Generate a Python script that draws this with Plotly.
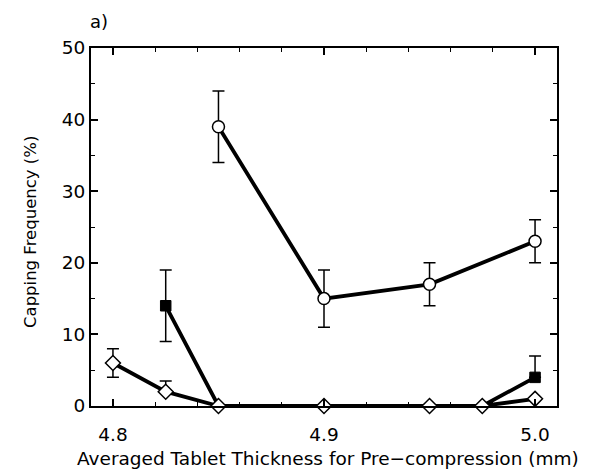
import plotly.graph_objects as go

# Data
circ_x = [4.85, 4.90, 4.95, 5.00]
circ_y = [39, 15, 17, 23]
circ_err = [5, 4, 3, 3]

sq_x = [4.825, 4.85, 4.90, 4.95, 4.975, 5.00]
sq_y = [14, 0, 0, 0, 0, 4]
sq_err_plus = [5, 0, 0, 0, 0, 3]
sq_err_minus = [5, 0, 0, 0, 0, 0]

dia_x = [4.80, 4.825, 4.85, 4.90, 4.95, 4.975, 5.00]
dia_y = [6, 2, 0, 0, 0, 0, 1]
dia_err_plus = [2, 1.5, 0, 0, 0, 0, 0]
dia_err_minus = [2, 0, 0, 0, 0, 0, 0]

x_title = "Averaged Tablet Thickness for Pre\u2212compression (mm)"
y_title = "Capping Frequency (%)"
panel_label = "a)"

FONT = "DejaVu Sans, Liberation Sans, Arial, sans-serif"

fig = go.Figure()

fig.add_trace(go.Scatter(
    x=circ_x, y=circ_y, mode="lines+markers",
    line=dict(color="black", width=3.8),
    marker=dict(symbol="circle", size=12, color="white", opacity=1,
                line=dict(color="black", width=1.5)),
    error_y=dict(type="data", array=circ_err, color="black", thickness=1.5, width=6),
    cliponaxis=False, showlegend=False,
))

fig.add_trace(go.Scatter(
    x=sq_x, y=sq_y, mode="lines+markers",
    line=dict(color="black", width=3.8),
    marker=dict(symbol="square", size=[10.5 if v > 0 else 0 for v in sq_y], color="#000000",
                opacity=1, line=dict(color="#000000", width=1)),
    error_y=dict(type="data", symmetric=False, array=sq_err_plus, arrayminus=sq_err_minus,
                 color="black", thickness=1.5, width=6),
    cliponaxis=False, showlegend=False,
))

fig.add_trace(go.Scatter(
    x=dia_x, y=dia_y, mode="lines+markers",
    line=dict(color="black", width=3.8),
    marker=dict(symbol="diamond", size=11.5, color="white", opacity=1,
                line=dict(color="black", width=1.5)),
    error_y=dict(type="data", symmetric=False, array=dia_err_plus, arrayminus=dia_err_minus,
                 color="black", thickness=1.5, width=6),
    cliponaxis=False, showlegend=False,
))

L, R, T, B = 91, 39, 48, 66
W, H = 596, 472
pw, ph = W - L - R, H - T - B

def px(p):
    return (p - L) / pw

def py(p):
    return (H - B - p) / ph

fig.update_layout(
    width=W, height=H,
    margin=dict(l=L, r=R, t=T, b=B, pad=0),
    paper_bgcolor="white", plot_bgcolor="white",
    font=dict(family=FONT, size=18, color="black"),
    xaxis=dict(
        range=[4.7896, 5.0104], tickvals=[4.8, 4.9, 5.0], ticktext=["4.8", "4.9", "5.0"],
        ticks="inside", ticklen=7, tickwidth=1.5, tickcolor="black",
        minor=dict(dtick=0.02, tick0=4.8, ticks="inside", ticklen=4, tickwidth=1.2, tickcolor="black"),
        showline=True, linecolor="black", linewidth=1.8, mirror="ticks",
        showgrid=False, zeroline=False, ticklabelstandoff=11,
        tickfont=dict(family=FONT, size=18.5, color="black"),
    ),
    yaxis=dict(
        range=[0, 50], tickvals=[0, 10, 20, 30, 40, 50],
        ticks="inside", ticklen=7, tickwidth=1.5, tickcolor="black",
        minor=dict(dtick=5, tick0=0, ticks="inside", ticklen=4, tickwidth=1.2, tickcolor="black"),
        showline=True, linecolor="black", linewidth=1.8, mirror="ticks",
        showgrid=False, zeroline=False, ticklabelstandoff=0,
        tickfont=dict(family=FONT, size=18.5, color="black"),
    ),
    annotations=[
        dict(text=x_title, xref="paper", yref="paper", x=px(328), y=py(458),
             showarrow=False, xanchor="center", yanchor="middle",
             font=dict(family=FONT, size=18.5, color="black")),
        dict(text=y_title, xref="paper", yref="paper", x=px(30), y=py(232),
             showarrow=False, xanchor="center", yanchor="middle", textangle=-90,
             font=dict(family=FONT, size=16.5, color="black")),
        dict(text=panel_label, xref="paper", yref="paper", x=px(99), y=py(21),
             showarrow=False, xanchor="center", yanchor="middle",
             font=dict(family=FONT, size=18, color="black")),
    ],
)

fig.write_html("out.html")
